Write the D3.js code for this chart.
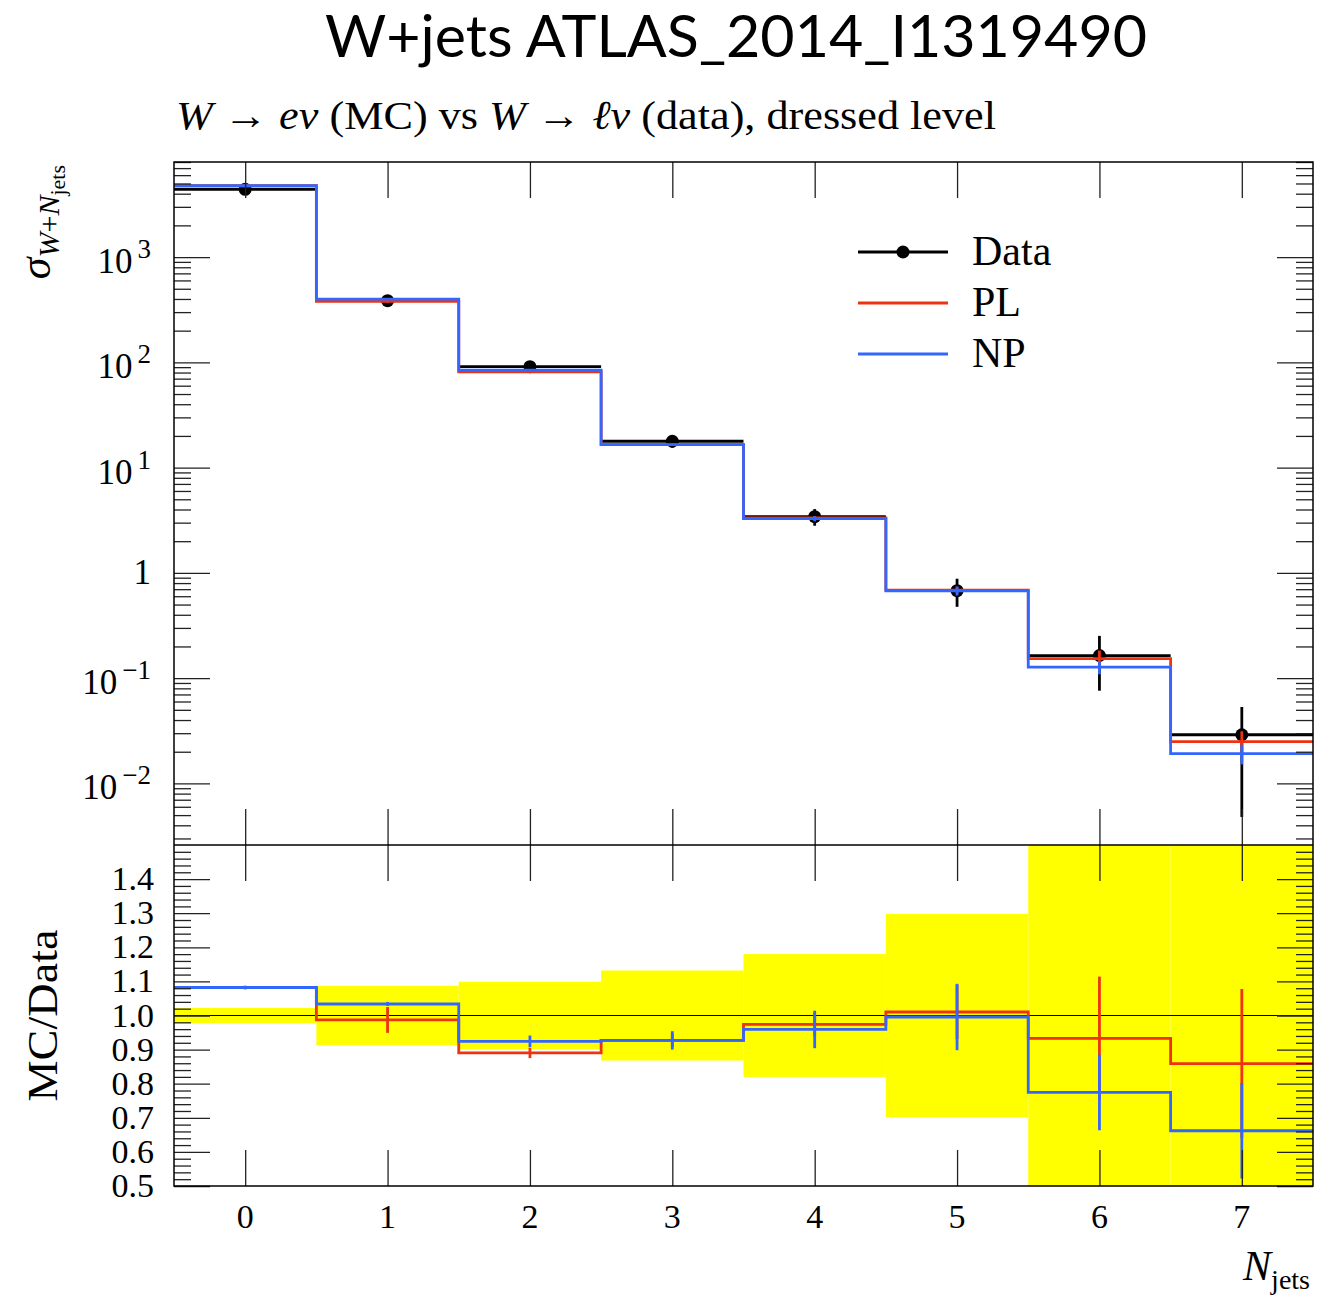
<!DOCTYPE html>
<html>
<head>
<meta charset="utf-8">
<script src="https://cdn.jsdelivr.net/npm/d3@7"></script>
<style>
  body { margin: 0; background: #fff; }
  svg text { font-family: "Liberation Serif", "DejaVu Serif", serif; fill: #000; }
</style>
</head>
<body>
<svg id="chart" width="1337" height="1298"></svg>
<script>
// Jet multiplicity bins
const nJets = [0, 1, 2, 3, 4, 5, 6, 7];

// Measured cross sections (data) and their uncertainties
const dataXs  = [4400, 385, 91, 17.8, 3.42, 0.678, 0.164, 0.029];
const dataErr = [97, 33.5, 9.0, 2.35, 0.616, 0.202, 0.088, 0.0242];

// Particle-level MC prediction (PL)
const plXs  = [4761, 380, 81, 16.5, 3.33, 0.685, 0.153, 0.0249];
const plErr = [22, 14.6, 1.37, 0.36, 0.12, 0.054, 0.0297, 0.00635];

// Non-perturbative corrected MC prediction (NP)
const npXs  = [4761, 398, 84.1, 16.5, 3.28, 0.675, 0.127, 0.0192];
const npErr = [22, 2.3, 1.55, 0.48, 0.188, 0.066, 0.0182, 0.00406];

// Axis tick definitions
const decadeExponents = [-2, -1, 0, 1, 2, 3];
const ratioMajorTicks = [0.5, 0.6, 0.7, 0.8, 0.9, 1.0, 1.1, 1.2, 1.3, 1.4];
const ratioTickLabels = ["0.5", "0.6", "0.7", "0.8", "0.9", "1.0", "1.1", "1.2", "1.3", "1.4"];
const xTickLabels = ["0", "1", "2", "3", "4", "5", "6", "7"];

const legendEntries = [
  { label: "Data", color: "#000000", marker: true },
  { label: "PL",   color: "#EE3311", marker: false },
  { label: "NP",   color: "#3366FF", marker: false }
];

const COL_DATA = "#000000", COL_PL = "#EE3311", COL_NP = "#3366FF", COL_BAND = "#FFFF00";

const svg = d3.select("#chart");
const F = { left: 174, right: 1313, top: 162, mid: 845, bottom: 1186 };

const x = d3.scaleLinear().domain([-0.5, 7.5]).range([F.left, F.right]);
const y = d3.scaleLog().domain([0.0026, 8000]).range([F.mid, F.top]);
const r = d3.scaleLinear().domain([0.5, 1.5]).range([F.bottom, F.mid]);

const defs = svg.append("defs");
defs.append("clipPath").attr("id", "clipMain")
  .append("rect").attr("x", F.left).attr("y", F.top)
  .attr("width", F.right - F.left).attr("height", F.mid - F.top);
defs.append("clipPath").attr("id", "clipRatio")
  .append("rect").attr("x", F.left).attr("y", F.mid)
  .attr("width", F.right - F.left).attr("height", F.bottom - F.mid);

// ---------- Titles ----------
svg.append("text")
  .attr("x", 736).attr("y", 57)
  .attr("text-anchor", "middle")
  .style("font-family", "Lato, 'Open Sans', sans-serif")
  .style("font-size", "58px")
  .attr("textLength", 822).attr("lengthAdjust", "spacingAndGlyphs")
  .text("W+jets ATLAS_2014_I1319490");

const sub = svg.append("text")
  .attr("x", 176).attr("y", 129)
  .style("font-size", "41px")
  .attr("textLength", 820).attr("lengthAdjust", "spacingAndGlyphs");
sub.append("tspan").style("font-style", "italic").text("W");
sub.append("tspan").text(" → ");
sub.append("tspan").style("font-style", "italic").text("eν");
sub.append("tspan").text(" (MC) vs ");
sub.append("tspan").style("font-style", "italic").text("W");
sub.append("tspan").text(" → ");
sub.append("tspan").style("font-style", "italic").text("ℓν");
sub.append("tspan").text(" (data), dressed level");

// ---------- Helpers ----------
const stepPoints = vals => vals.map((v, i) => [nJets[i] - 0.5, v])
  .concat([[nJets[nJets.length - 1] + 0.5, vals[vals.length - 1]]]);

const lineMain = d3.line().x(d => x(d[0])).y(d => y(d[1])).curve(d3.curveStepAfter);
const lineRatio = d3.line().x(d => x(d[0])).y(d => r(d[1])).curve(d3.curveStepAfter);

// ---------- Main panel ----------
const gMain = svg.append("g").attr("clip-path", "url(#clipMain)");

// data: horizontal bin-width bars, vertical error bars, markers
const gData = gMain.append("g");
nJets.forEach((n, i) => {
  gData.append("line")
    .attr("x1", x(n - 0.5)).attr("x2", x(n + 0.5))
    .attr("y1", y(dataXs[i])).attr("y2", y(dataXs[i]))
    .attr("stroke", COL_DATA).attr("stroke-width", 2.8);
  gData.append("line")
    .attr("x1", x(n)).attr("x2", x(n))
    .attr("y1", y(Math.max(dataXs[i] - dataErr[i], 1e-6))).attr("y2", y(dataXs[i] + dataErr[i]))
    .attr("stroke", COL_DATA).attr("stroke-width", 2.8);
  gData.append("circle")
    .attr("cx", x(n)).attr("cy", y(dataXs[i])).attr("r", 6.5)
    .attr("fill", COL_DATA);
});

function drawMC(g, vals, errs, color, line, scale) {
  g.append("path")
    .attr("d", line(stepPoints(vals)))
    .attr("fill", "none").attr("stroke", color).attr("stroke-width", 2.8);
  nJets.forEach((n, i) => {
    g.append("line")
      .attr("x1", x(n)).attr("x2", x(n))
      .attr("y1", scale(vals[i] - errs[i])).attr("y2", scale(vals[i] + errs[i]))
      .attr("stroke", color).attr("stroke-width", 2.8);
  });
}
drawMC(gMain.append("g"), plXs, plErr, COL_PL, lineMain, y);
drawMC(gMain.append("g"), npXs, npErr, COL_NP, lineMain, y);

// ---------- Ratio panel ----------
const gRatio = svg.append("g").attr("clip-path", "url(#clipRatio)");
nJets.forEach((n, i) => {
  const rel = dataErr[i] / dataXs[i];
  gRatio.append("rect")
    .attr("x", x(n - 0.5)).attr("width", x(n + 0.5) - x(n - 0.5))
    .attr("y", r(1 + rel)).attr("height", r(1 - rel) - r(1 + rel))
    .attr("fill", COL_BAND);
});
gRatio.append("line")
  .attr("x1", F.left).attr("x2", F.right)
  .attr("y1", r(1)).attr("y2", r(1))
  .attr("stroke", "#000").attr("stroke-width", 1.2);

const plRatio = plXs.map((v, i) => v / dataXs[i]);
const plRatioErr = plErr.map((e, i) => e / dataXs[i]);
const npRatio = npXs.map((v, i) => v / dataXs[i]);
const npRatioErr = npErr.map((e, i) => e / dataXs[i]);
drawMC(gRatio.append("g"), plRatio, plRatioErr, COL_PL, lineRatio, r);
drawMC(gRatio.append("g"), npRatio, npRatioErr, COL_NP, lineRatio, r);

// ---------- Ticks ----------
const MAJ = 36, MIN = 17;
const tickStyle = g => {
  g.select(".domain").remove();
  g.selectAll("line").attr("stroke", "#222").attr("stroke-width", 1.3);
  g.selectAll("text").remove();
};

// log ticks for the main panel
const logMajor = decadeExponents.map(e => Math.pow(10, e));
const logMinor = [];
for (let e = -3; e <= 3; e++) {
  for (let k = 2; k <= 9; k++) {
    const v = k * Math.pow(10, e);
    if (v >= y.domain()[0] && v <= y.domain()[1]) logMinor.push(v);
  }
}
[[d3.axisLeft, F.left], [d3.axisRight, F.right]].forEach(([ax, pos]) => {
  svg.append("g").attr("transform", `translate(${pos},0)`)
    .call(ax(y).tickValues(logMajor).tickSize(-MAJ).tickFormat(() => "")).call(tickStyle);
  svg.append("g").attr("transform", `translate(${pos},0)`)
    .call(ax(y).tickValues(logMinor).tickSize(-MIN).tickFormat(() => "")).call(tickStyle);
});

// linear ticks for the ratio panel
const ratioMinor = d3.range(0.52, 1.5, 0.02).filter(v => Math.abs(Math.round(v * 10) - v * 10) > 1e-6);
[[d3.axisLeft, F.left], [d3.axisRight, F.right]].forEach(([ax, pos]) => {
  svg.append("g").attr("transform", `translate(${pos},0)`)
    .call(ax(r).tickValues(ratioMajorTicks).tickSize(-MAJ).tickFormat(() => "")).call(tickStyle);
  svg.append("g").attr("transform", `translate(${pos},0)`)
    .call(ax(r).tickValues(ratioMinor).tickSize(-MIN).tickFormat(() => "")).call(tickStyle);
});

// x ticks on every horizontal edge
[[d3.axisTop, F.top], [d3.axisBottom, F.mid], [d3.axisTop, F.mid], [d3.axisBottom, F.bottom]].forEach(([ax, pos]) => {
  svg.append("g").attr("transform", `translate(0,${pos})`)
    .call(ax(x).tickValues(nJets).tickSize(-MAJ).tickFormat(() => "")).call(tickStyle);
});

// ---------- Frames ----------
svg.append("rect")
  .attr("x", F.left).attr("y", F.top)
  .attr("width", F.right - F.left).attr("height", F.bottom - F.top)
  .attr("fill", "none").attr("stroke", "#000").attr("stroke-width", 1.5);
svg.append("line")
  .attr("x1", F.left).attr("x2", F.right).attr("y1", F.mid).attr("y2", F.mid)
  .attr("stroke", "#000").attr("stroke-width", 1.5);

// ---------- Tick labels ----------
decadeExponents.forEach((e, i) => {
  const t = svg.append("text")
    .attr("x", 151).attr("text-anchor", "end")
    .style("font-size", "35px");
  const yy = y(logMajor[i]);
  if (e === 0) {
    t.attr("y", yy + 11).text("1");
  } else {
    t.attr("y", yy + 16);
    t.append("tspan").text("10");
    t.append("tspan").attr("dx", 5).attr("dy", -15).style("font-size", "27px")
      .text((e < 0 ? "−" : "") + Math.abs(e));
  }
});

ratioMajorTicks.forEach((v, i) => {
  svg.append("text")
    .attr("x", 154).attr("y", r(v) + 11)
    .attr("text-anchor", "end")
    .style("font-size", "34px")
    .text(ratioTickLabels[i]);
});

nJets.forEach((n, i) => {
  svg.append("text")
    .attr("x", x(n)).attr("y", 1228)
    .attr("text-anchor", "middle")
    .style("font-size", "34px")
    .text(xTickLabels[i]);
});

// ---------- Axis titles ----------
const yt = svg.append("text")
  .attr("transform", "translate(50,165) rotate(-90)")
  .attr("text-anchor", "end");
yt.append("tspan").style("font-style", "italic").style("font-size", "44px").text("σ");
yt.append("tspan").attr("dy", 9).style("font-style", "italic").style("font-size", "30px").text("W");
yt.append("tspan").style("font-size", "30px").text("+");
yt.append("tspan").style("font-style", "italic").style("font-size", "30px").text("N");
yt.append("tspan").attr("dy", 6).style("font-size", "22px").text("jets");

svg.append("text")
  .attr("transform", `translate(57,${r(1)}) rotate(-90)`)
  .attr("text-anchor", "middle")
  .style("font-size", "43px")
  .attr("textLength", 172).attr("lengthAdjust", "spacingAndGlyphs")
  .text("MC/Data");

const xt = svg.append("text")
  .attr("x", 1310).attr("y", 1280)
  .attr("text-anchor", "end");
xt.append("tspan").style("font-style", "italic").style("font-size", "42px").text("N");
xt.append("tspan").attr("dy", 9).style("font-size", "28px").text("jets");

// ---------- Legend ----------
const lg = svg.append("g");
legendEntries.forEach((d, i) => {
  const ly = 252 + i * 51;
  lg.append("line")
    .attr("x1", 858).attr("x2", 948).attr("y1", ly).attr("y2", ly)
    .attr("stroke", d.color).attr("stroke-width", 2.8);
  if (d.marker) {
    lg.append("circle").attr("cx", 903).attr("cy", ly).attr("r", 6.5).attr("fill", d.color);
  }
  lg.append("text")
    .attr("x", 972).attr("y", ly + 13)
    .style("font-size", "42px")
    .text(d.label);
});
</script>
</body>
</html>
